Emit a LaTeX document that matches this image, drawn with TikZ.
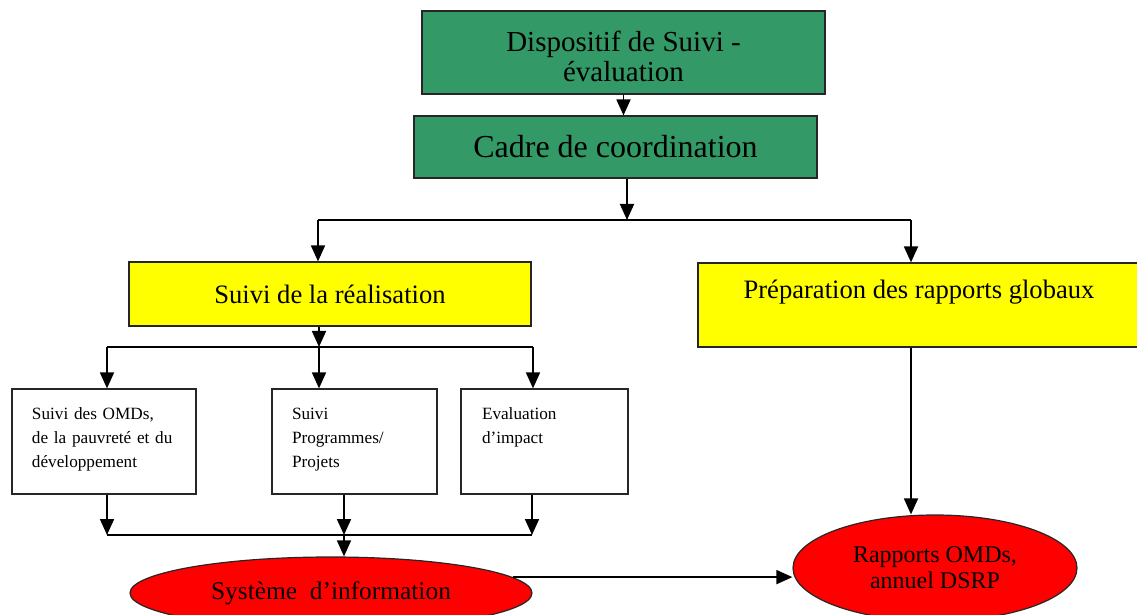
\documentclass[tikz,border=0pt]{standalone}
\usepackage{fontspec}
\setmainfont{Liberation Serif}
\usepackage{xcolor}
\usepackage{tikz}
\usetikzlibrary{arrows.meta}
\usetikzlibrary{shapes.geometric}

\definecolor{vert}{RGB}{51,153,102}
\definecolor{jaune}{RGB}{255,255,0}
\definecolor{rouge}{RGB}{255,0,0}

\begin{document}
\begin{tikzpicture}[x=0.5pt,y=-0.5pt,
	fleche/.style={-{Triangle[length=8pt,width=7pt]},line width=0.9pt},
	trait/.style={line width=0.9pt},
	boite/.style={rectangle,draw=black!85,line width=0.6pt,inner sep=0pt},
	petite/.style={boite,minimum height=52.5pt,align=left,font=\fontsize{8.6}{12}\selectfont},
	ovale/.style={ellipse,draw=black!85,fill=rouge,line width=0.6pt,inner sep=0pt,align=center}]
	\useasboundingbox (0,0) rectangle (1137,615);
	% niveau du haut
	\node[boite,fill=vert,minimum width=201.5pt,minimum height=41.5pt,align=center,font=\fontsize{14.5}{15}\selectfont] (dispositif) at (623.5,52.5) {\rule{0pt}{14pt}Dispositif de Suivi -\\évaluation};
	\node[boite,fill=vert,minimum width=201.5pt,minimum height=31pt,font=\fontsize{16}{18}\selectfont] (cadre) at (615.5,147) {Cadre de coordination};
	\node[boite,fill=jaune,minimum width=201pt,minimum height=32pt,font=\fontsize{13.3}{16}\selectfont] (suivi) at (330,294) {Suivi de la réalisation};
	\node[boite,fill=jaune,minimum width=221pt,minimum height=42pt,align=center,font=\fontsize{13.3}{16}\selectfont] (prep) at (919,305) {Préparation des rapports globaux\\\mbox{}};
	% les trois suivis
	\node[petite,inner xsep=10pt,text width=72pt] (omd) at (104,441.5) {Suivi des OMDs,\\de la pauvreté et du\\développement\strut};
	\node[petite,inner xsep=10pt,text width=62.5pt] (prog) at (354.5,441.5) {Suivi\\Programmes/\\Projets\strut};
	\node[petite,inner xsep=10.5pt,text width=62.5pt] (impact) at (544.5,441.5) {Evaluation\\d’impact\\\strut};
	% sorties
	\node[ovale,minimum width=201pt,minimum height=36pt,font=\fontsize{12.7}{15}\selectfont] (systeme) at (331,593) {Système~ d’information};
	\node[ovale,minimum width=142pt,minimum height=53pt,font=\fontsize{12}{13}\selectfont] (rapports) at (935,568) {Rapports OMDs,\\annuel DSRP};

	\coordinate (c1) at (627,220);
	\coordinate (g1) at (318,220);
	\coordinate (d1) at (911,220);
	\coordinate (c2) at (319,347);
	\coordinate (g2) at (107,347);
	\coordinate (d2) at (533,347);
	\coordinate (c3) at (344,535);
	\coordinate (g3) at (107,535);
	\coordinate (d3) at (532,535);

	\draw[fleche] (dispositif) -- (dispositif |- cadre.north);
	\draw[fleche] (cadre.south -| c1) -- (c1);
	\draw[trait] (g1) -- (d1);
	\draw[fleche] (g1) -- (g1 |- suivi.north);
	\draw[fleche] (d1) -- (d1 |- prep.north);
	\draw[fleche] (suivi.south -| c2) -- (c2);
	\draw[trait] (g2) -- (d2);
	\foreach \n/\c in {omd/g2,prog/c2,impact/d2}
		\draw[fleche] (\c) -- (\c |- \n.north);
	\foreach \n/\c in {omd/g3,prog/c3,impact/d3}
		\draw[fleche] (\n.south -| \c) -- (\c);
	\draw[trait] (g3) -- (d3);
	\draw[fleche] (c3) -- (c3 |- systeme.north);
	\draw[fleche] (prep.south -| d1) -- (d1 |- rapports.north);
	\draw[fleche] (systeme.5) -- (systeme.5 -| rapports.west);
\end{tikzpicture}
\end{document}
